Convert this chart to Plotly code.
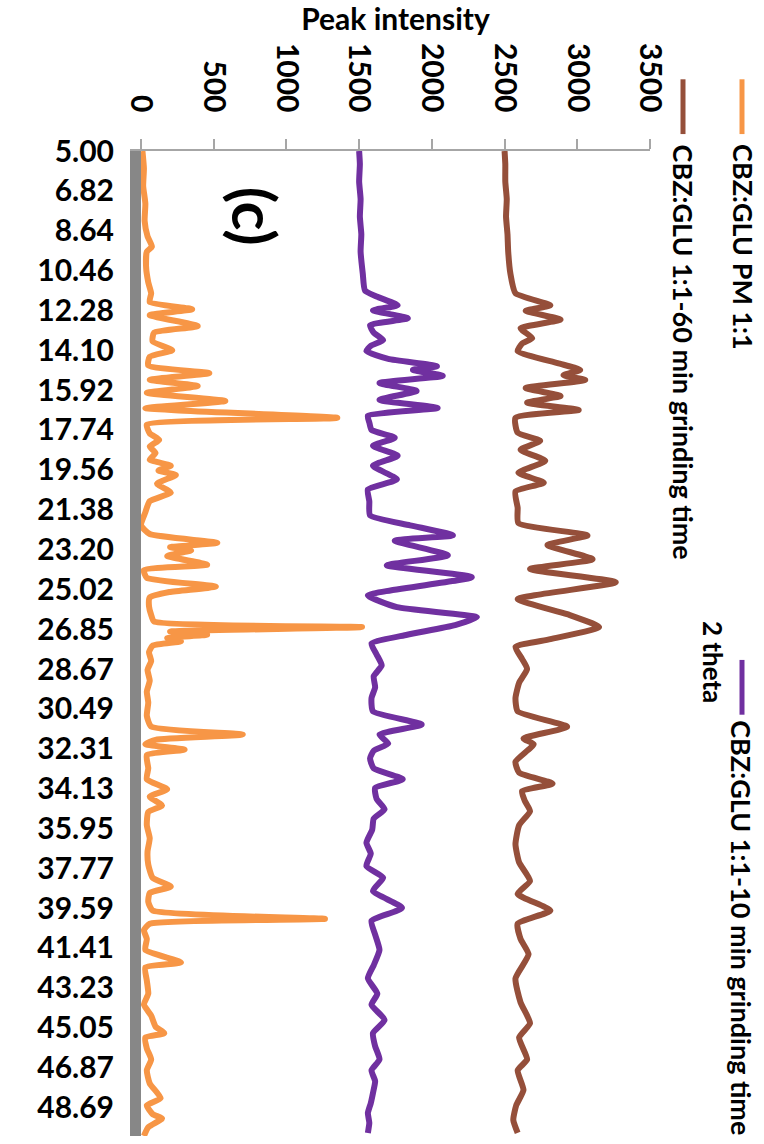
import plotly.graph_objects as go

# ---- data ----
theta_tick_labels = ["5.00", "6.82", "8.64", "10.46", "12.28", "14.10", "15.92", "17.74",
                     "19.56", "21.38", "23.20", "25.02", "26.85", "28.67", "30.49", "32.31",
                     "34.13", "35.95", "37.77", "39.59", "41.41", "43.23", "45.05", "46.87", "48.69"]
intensity_ticks = [0, 500, 1000, 1500, 2000, 2500, 3000, 3500]

pm_theta = [5.0, 5.8, 6.6, 7.4, 8.2, 8.9, 9.37, 9.6, 10.3, 11.0, 11.5, 11.9, 12.23, 12.5, 13.0,
            13.3, 13.7, 14.1, 14.4, 14.8, 15.15, 15.45, 15.74, 16.05, 16.42, 16.75, 17.19, 17.5,
            17.9, 18.2, 18.5, 18.8, 19.1, 19.38, 19.6, 19.8, 20.2, 20.6, 21.0, 21.5, 22.1, 22.5,
            22.9, 23.1, 23.25, 23.5, 23.9, 24.15, 24.5, 24.9, 25.15, 25.4, 25.8, 26.2, 26.5,
            26.75, 26.95, 27.1, 27.25, 27.4, 27.6, 27.9, 28.3, 28.7, 29.2, 29.7, 30.2, 30.8,
            31.3, 31.66, 31.9, 32.1, 32.35, 32.6, 33.2, 33.7, 34.16, 34.5, 34.9, 35.2, 35.8,
            36.4, 37.0, 37.6, 38.2, 38.6, 38.9, 39.3, 39.7, 40.08, 40.3, 40.6, 41.0, 41.5,
            42.07, 42.3, 42.9, 43.5, 44.0, 44.5, 45.0, 45.3, 45.5, 46.0, 46.5, 47.0, 47.6,
            48.27, 48.6, 49.0, 49.2, 49.6, 50.0]
pm_int = [10, 20, 15, 30, 25, 45, 75, 40, 35, 50, 70, 60, 352, 60, 390,
          90, 80, 215, 60, 50, 470, 60, 390, 40, 580, 30, 1350, 40,
          60, 125, 60, 100, 60, 205, 120, 240, 110, 205, 60, 30, 0, 60,
          525, 200, 345, 180, 455, 20, 40, 515, 195, 60, 55, 70, 90,
          1520, 200, 455, 180, 275, 80, 55, 70, 45, 60, 40, 50, 40,
          70, 700, 100, 30, 300, 40, 50, 40, 180, 60, 145, 50, 40,
          60, 45, 50, 80, 205, 60, 50, 80, 1265, 60, 20, 40, 30,
          275, 30, 40, 50, 20, 70, 100, 160, 30, 40, 70, 40, 60,
          135, 40, 80, 145, 50, 20]

g60_theta = [5.0, 5.6, 6.4, 7.2, 8.0, 8.8, 9.6, 10.6, 11.5, 12.05, 12.3, 12.7, 13.1, 13.55, 13.8,
             14.14, 14.69, 15.0, 15.24, 15.46, 15.83, 16.19, 16.5, 16.83, 17.19, 17.87, 18.24,
             18.65, 19.15, 19.7, 20.15, 20.55, 21.3, 22.0, 22.56, 23.0, 23.65, 24.1, 24.7, 25.47,
             26.16, 26.75, 27.3, 27.66, 28.2, 28.66, 29.3, 30.0, 30.6, 31.3, 31.84, 32.1, 32.9,
             33.4, 33.9, 34.25, 34.7, 35.16, 35.8, 36.67, 37.5, 38.35, 38.94, 39.7, 40.3, 41.0,
             41.7, 42.8, 43.9, 44.85, 45.5, 46.5, 47.0, 47.9, 48.6, 49.27, 49.86]
g60_int = [2500, 2505, 2505, 2515, 2510, 2520, 2525, 2540, 2575, 2815, 2645, 2885, 2610, 2690, 2620,
           2590, 2865, 3020, 2905, 3055, 2645, 2885, 2655, 3010, 2575, 2590, 2745,
           2610, 2780, 2595, 2770, 2575, 2590, 2595, 3070, 2795, 3105, 2675, 3265, 2590,
           2930, 3150, 2815, 2575, 2620, 2655, 2600, 2575, 2590, 2930, 2630, 2700, 2575,
           2600, 2830, 2620, 2640, 2675, 2600, 2575, 2600, 2675, 2590, 2815, 2590, 2610,
           2665, 2575, 2610, 2675, 2600, 2655, 2590, 2630, 2580, 2560, 2590]

g10_theta = [5.0, 5.6, 6.4, 7.2, 8.0, 8.8, 9.6, 10.6, 11.37, 11.65, 12.05, 12.28, 12.64, 12.96, 13.3,
             13.64, 13.9, 14.14, 14.5, 14.83, 15.0, 15.27, 15.6, 15.96, 16.37, 16.74, 17.1, 17.4,
             17.74, 18.1, 18.47, 18.92, 19.38, 20.0, 20.46, 21.0, 21.65, 22.1, 22.56, 22.8, 23.47,
             23.93, 24.47, 25.3, 25.84, 26.3, 26.66, 27.1, 27.5, 28.0, 28.5, 29.0, 29.5, 30.0,
             30.6, 31.2, 31.66, 32.07, 32.4, 32.75, 33.2, 33.7, 34.1, 34.6, 35.07, 35.5, 36.0,
             36.6, 37.1, 37.67, 38.2, 38.8, 39.58, 40.17, 40.8, 41.5, 42.2, 42.8, 43.5, 44.0,
             44.7, 45.3, 45.9, 46.5, 47.0, 47.5, 48.04, 48.5, 48.95, 49.4, 49.86]
g10_int = [1500, 1505, 1500, 1510, 1505, 1515, 1510, 1525, 1540, 1620, 1765, 1595, 1835, 1575, 1600,
           1665, 1580, 1550, 1700, 2035, 1870, 2075, 1640, 1895, 1640, 2040, 1560, 1570,
           1585, 1745, 1595, 1765, 1595, 1760, 1560, 1570, 1575, 1850, 2145, 1745, 2110,
           1690, 2275, 1560, 1760, 2310, 2160, 1830, 1585, 1620, 1655, 1600, 1610, 1585,
           1595, 1930, 1640, 1700, 1600, 1575, 1600, 1800, 1610, 1620, 1675, 1600, 1590,
           1550, 1580, 1550, 1665, 1595, 1795, 1585, 1610, 1640, 1600, 1560, 1625, 1585,
           1675, 1595, 1610, 1640, 1585, 1610, 1595, 1580, 1560, 1570, 1560]

series_names = ["CBZ:GLU PM 1:1", "CBZ:GLU 1:1-60 min grinding time", "CBZ:GLU 1:1-10 min grinding time"]
series_colors = ["#F79646", "#954F3A", "#7030A0"]

FONT = "Lato"
fig = go.Figure()
for name, col, th, iv in zip(series_names, series_colors,
                             [pm_theta, g60_theta, g10_theta], [pm_int, g60_int, g10_int]):
    fig.add_trace(go.Scatter(x=iv, y=th, mode="lines", name=name,
                             line=dict(color=col, width=6, shape="spline", smoothing=0.5),
                             showlegend=False))

W, H = 764, 1144
L, R, T, B = 141, 114, 147, 8
pw, ph = W - L - R, H - T - B

def px(xp):
    return (xp - L) / pw

def py(yp):
    return (H - B - yp) / ph

TICK = 30
fig.update_layout(
    width=W, height=H,
    margin=dict(l=L, r=R, t=T, b=B),
    plot_bgcolor="white", paper_bgcolor="white",
    font=dict(family=FONT, size=TICK, color="black", weight="bold"),
    xaxis=dict(side="top", range=[0, 3500], tickvals=intensity_ticks, tickangle=90,
               showline=True, linecolor="#A6A6A6", linewidth=2,
               ticks="outside", ticklen=10, tickcolor="#A6A6A6", tickwidth=2,
               ticklabelstandoff=16,
               showgrid=False, zeroline=False,
               tickfont=dict(family=FONT, size=TICK, weight="bold"),
               title=dict(text="Peak intensity", font=dict(family=FONT, size=TICK, weight="bold"),
                          standoff=14)),
    yaxis=dict(range=[50.0, 5.0], tickvals=[float(s) for s in theta_tick_labels],
               ticktext=theta_tick_labels, showline=True, linecolor="#878787", linewidth=11,
               ticks="", ticklabelstandoff=10, showgrid=False, zeroline=False,
               tickfont=dict(family=FONT, size=TICK, weight="bold")),
)

LEG = 27
annots = [
    dict(text="(c)", x=px(255), y=py(212), textangle=90, font=dict(size=60, weight="bold")),
    dict(text="2 theta", x=px(713), y=py(660), textangle=90, font=dict(size=26, weight="bold")),
    dict(text=series_names[0], x=px(744), y=py(138), yanchor="top", textangle=90,
         font=dict(size=LEG, weight="bold")),
    dict(text=series_names[1], x=px(683), y=py(138), yanchor="top", textangle=90,
         font=dict(size=LEG, weight="bold")),
    dict(text=series_names[2], x=px(742), y=py(716), yanchor="top", textangle=90,
         font=dict(size=LEG, weight="bold")),
]
for a in annots:
    a.update(xref="paper", yref="paper", showarrow=False)
    a.setdefault("yanchor", "middle")
    a["xanchor"] = "center"
fig.update_layout(annotations=annots)

legend_marks = [(742, 75, 130, series_colors[0]), (683, 75, 130, series_colors[1]),
                (742, 658, 713, series_colors[2])]
for xm, y0, y1, col in legend_marks:
    fig.add_shape(type="line", xref="paper", yref="paper", x0=px(xm), x1=px(xm),
                  y0=py(y0), y1=py(y1), line=dict(color=col, width=5))

fig.write_html("out.html", config={"displayModeBar": False},
               post_script="document.body.style.margin='0';document.body.style.overflow='hidden';")
